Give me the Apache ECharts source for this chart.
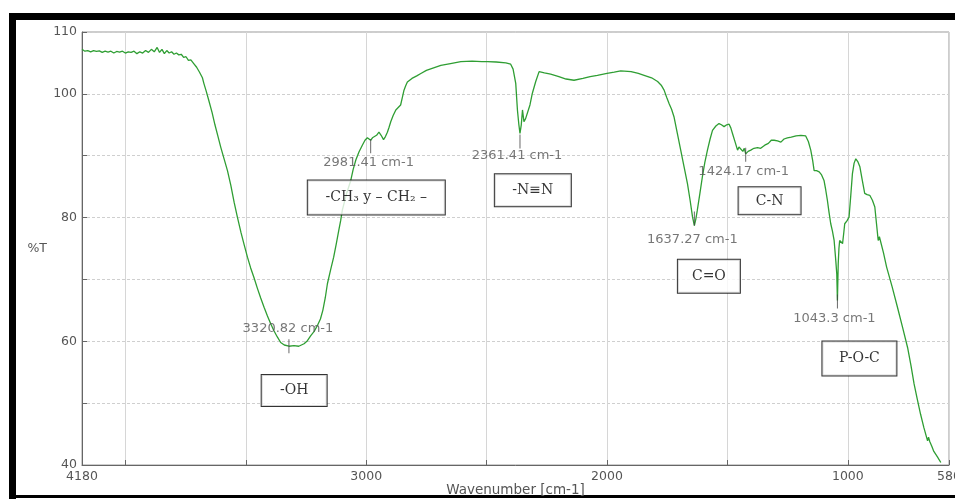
<!DOCTYPE html>
<html>
<head>
<meta charset="utf-8">
<title>FTIR spectrum</title>
<script src="https://cdn.jsdelivr.net/npm/echarts@6/dist/echarts.min.js"></script>
<style>
  html, body { margin: 0; padding: 0; background: #fff; }
  #chart { width: 955px; height: 499px; }
</style>
</head>
<body>
<div id="chart"></div>
<script>
// Spectrum: wavenumber (cm-1) and transmittance (%T)
const wavenumber = [
  4180, 4168, 4156, 4144, 4132, 4120, 4108, 4096, 4084, 4072, 4060, 4048, 4036, 4024, 4012, 4000,
  3988, 3976, 3964, 3952, 3940, 3928, 3916, 3904, 3892, 3880, 3868, 3858, 3848, 3838, 3828, 3818,
  3808, 3798, 3788, 3778, 3768, 3758, 3748, 3738, 3728, 3716, 3704, 3692, 3680, 3674, 3664, 3654,
  3640, 3628, 3616, 3604, 3590, 3576, 3562, 3548, 3535, 3520, 3506, 3493, 3480, 3466, 3452, 3438,
  3424, 3410, 3396, 3383, 3369, 3355, 3340, 3320.82, 3300, 3280, 3258, 3244, 3230, 3216, 3202, 3190,
  3180, 3170, 3161, 3148, 3135, 3124, 3114, 3106, 3099, 3082, 3064, 3054, 3043, 3030, 3016, 3005,
  2995, 2988, 2981.41, 2974, 2967, 2957, 2947, 2938, 2928, 2920, 2912, 2905, 2898, 2888, 2877, 2867,
  2857, 2850, 2843, 2836, 2829, 2810, 2790, 2773, 2750, 2720, 2690, 2650, 2607, 2560, 2520, 2496,
  2460, 2420, 2400, 2390, 2379, 2372, 2366, 2361.41, 2356, 2351, 2345, 2338, 2330, 2320, 2310, 2296,
  2282, 2260, 2234, 2200, 2170, 2137, 2100, 2070, 2040, 2000, 1970, 1943, 1900, 1870, 1846, 1815,
  1790, 1775, 1763, 1752, 1742, 1732, 1722, 1708, 1694, 1680, 1666, 1655, 1645, 1637.27, 1631, 1625,
  1614, 1604, 1594, 1583, 1572, 1562, 1548, 1535, 1525, 1514, 1503, 1493, 1486, 1479, 1468, 1458,
  1452, 1445, 1436, 1430, 1424.17, 1414, 1403, 1390, 1375, 1362, 1345, 1330, 1318, 1306, 1292, 1278,
  1265, 1251, 1235, 1215, 1195, 1175, 1164, 1154, 1146, 1140, 1130, 1119, 1109, 1099, 1092, 1085,
  1078, 1071, 1064, 1057, 1050, 1046, 1043.3, 1040, 1037, 1034, 1028, 1022, 1017, 1013, 1008, 1003,
  999, 995, 988, 981, 974, 967, 958, 950, 940, 930, 920, 909, 898, 888, 881, 874,
  869, 864, 852, 839, 816, 794, 773, 752, 738, 725, 712, 698, 684, 669, 665, 660,
  651, 643, 628, 614
];
const transmittance = [
  107.2, 106.9, 107.0, 106.8, 107.0, 106.85, 106.95, 106.7, 106.9, 106.75, 106.9, 106.6, 106.85, 106.75, 106.9, 106.6,
  106.8, 106.7, 106.9, 106.5, 106.8, 106.6, 107.0, 106.7, 107.2, 106.8, 107.5, 106.7, 107.2, 106.5, 107.0, 106.6,
  106.8, 106.4, 106.6, 106.3, 106.4, 105.9, 106.0, 105.4, 105.5, 104.9, 104.3, 103.5, 102.6, 101.7, 100.4, 99.0,
  97.0, 95.0, 93.2, 91.4, 89.5, 87.6, 85.2, 82.4, 80.1, 77.6, 75.5, 73.6, 71.9, 70.3, 68.6, 67.0,
  65.5, 64.1, 62.8, 61.7, 60.7, 59.8, 59.4, 59.2, 59.3, 59.2, 59.6, 60.1, 60.9, 61.6, 62.6, 63.6,
  65.0, 67.0, 69.3, 71.5, 73.6, 75.8, 77.9, 79.5, 81.2, 83.8, 86.0, 87.8, 89.3, 90.6, 91.7, 92.5,
  92.9, 92.7, 92.5, 92.9, 92.8, 93.3, 93.8, 93.3, 92.6, 93.1, 93.8, 94.6, 95.5, 96.5, 97.4, 97.8,
  98.2, 99.4, 100.6, 101.3, 101.9, 102.5, 102.9, 103.3, 103.8, 104.2, 104.6, 104.9, 105.2, 105.3, 105.2, 105.2,
  105.15, 105.0, 104.8, 104.0, 101.7, 97.4, 95.0, 93.6, 95.0, 97.4, 95.5, 96.0, 96.3, 98.2, 100.1, 102.0,
  103.6, 103.4, 103.2, 102.8, 102.4, 102.2, 102.5, 102.8, 103.0, 103.3, 103.5, 103.7, 103.6, 103.3, 103.0, 102.6,
  102.0, 101.4, 100.6, 99.4, 98.4, 97.5, 96.3, 93.6, 90.9, 88.2, 85.5, 82.8, 80.1, 78.7, 79.8, 81.2,
  84.0, 86.6, 88.9, 90.9, 92.7, 94.1, 94.8, 95.2, 95.0, 94.7, 95.0, 95.1, 94.5, 93.6, 92.2, 90.9,
  91.4, 91.4, 90.7, 91.2, 90.3, 90.7, 90.9, 91.2, 91.3, 91.2, 91.7, 92.0, 92.5, 92.5, 92.4, 92.2,
  92.7, 92.9, 93.0, 93.2, 93.3, 93.2, 92.3, 90.9, 89.2, 87.6, 87.6, 87.4, 86.9, 86.0, 84.5, 82.8,
  80.8, 79.0, 77.8, 76.3, 73.0, 70.9, 66.6, 72.5, 75.0, 76.3, 76.5, 75.8, 77.5, 79.0, 79.2, 79.5,
  79.7, 80.1, 83.5, 87.1, 88.8, 89.5, 89.0, 88.2, 86.0, 83.9, 83.7, 83.6, 82.8, 81.7, 79.0, 76.3,
  76.9, 76.8, 74.3, 72.0, 68.8, 65.5, 62.3, 59.0, 56.1, 53.1, 50.7, 48.2, 46.0, 43.9, 44.5, 43.8,
  43.0, 42.2, 41.3, 40.4
];

// Picked peaks
const peakWavenumber = [3320.82, 2981.41, 2361.41, 1637.27, 1424.17, 1043.3];
const peakTransmittance = [59.2, 92.5, 93.6, 78.7, 90.3, 66.6];

// Band assignments
const bandLabel = ['-OH', '-CH\u2083 y \u2013 CH\u2082 \u2013', '-N\u2261N', 'C=O', 'C-N', 'P-O-C'];
const bandWavenumber = [3299, 2958, 2308, 1577, 1325, 952];
const bandTransmittance = [52.05, 83.26, 84.4, 70.5, 82.7, 57.2];

// Axis ticks that carry a label
const xTickLabels = [4180, 3000, 2000, 1000, 580];
const yTickLabels = [110, 100, 80, 60, 40];

const chart = echarts.init(document.getElementById('chart'), null, { renderer: 'canvas' });

const sans = 'DejaVu Sans';
const serif = 'DejaVu Serif';

const spectrum = wavenumber.map((w, i) => [w, transmittance[i]]);

// marker offset and label offset (px) for each picked peak
const peakStyle = [
  { mark: 0,  label: [-1, -18] },
  { mark: 6,  label: [-2, 22] },
  { mark: 8,  label: [-3, 22] },
  { mark: -7, label: [-2, 14] },
  { mark: 1,  label: [-2, 18] },
  { mark: 1,  label: [-3, 18] }
];
const peaks = peakWavenumber.map((w, i) => ({
  value: [w, peakTransmittance[i]],
  symbolOffset: [0, peakStyle[i].mark],
  label: { offset: [peakStyle[i].label[0], peakStyle[i].label[1] - peakStyle[i].mark] }
}));

// box sizes for band labels
const boxSize = [[67, 33], [139, 36], [78, 34], [64, 35], [64, 29], [76, 36]];
const bands = bandLabel.map((t, i) => ({
  value: [bandWavenumber[i], bandTransmittance[i]],
  name: t,
  label: { width: boxSize[i][0] - 2, height: boxSize[i][1] - 2, lineHeight: boxSize[i][1] - 2 }
}));

const option = {
  animation: false,
  backgroundColor: '#ffffff',
  grid: {
    left: 82, right: 6, top: 32, bottom: 34,
    outerBoundsMode: 'none',
    containLabel: false,
    show: true, borderColor: '#9a9a9a', borderWidth: 1, backgroundColor: 'transparent'
  },
  xAxis: {
    type: 'value',
    inverse: true,
    min: 580,
    max: 4180,
    splitNumber: 8,
    name: 'Wavenumber [cm-1]',
    nameLocation: 'middle',
    nameGap: 18,
    nameMoveOverlap: false,
    nameTextStyle: { fontFamily: sans, fontSize: 13.5, color: '#555' },
    axisLine: { show: true, onZero: false, lineStyle: { color: '#666', width: 1 } },
    axisTick: { show: true, inside: true, length: 5, lineStyle: { color: '#666' } },
    axisLabel: {
      show: true,
      margin: 5,
      showMinLabel: true,
      showMaxLabel: true,
      fontFamily: sans,
      fontSize: 12.5,
      color: '#555',
      formatter: v => (xTickLabels.indexOf(v) >= 0 ? String(v) : '')
    },
    splitLine: { show: true, lineStyle: { color: '#d6d6d6', width: 1, type: 'solid' } }
  },
  yAxis: {
    type: 'value',
    min: 40,
    max: 110,
    interval: 10,
    name: '%T',
    nameLocation: 'middle',
    nameRotate: 0,
    nameGap: 35,
    nameMoveOverlap: false,
    nameTextStyle: { fontFamily: sans, fontSize: 12.5, color: '#555' },
    axisLine: { show: true, onZero: false, lineStyle: { color: '#666', width: 1 } },
    axisTick: { show: true, inside: true, length: 5, lineStyle: { color: '#666' } },
    axisLabel: {
      margin: 5,
      fontFamily: sans,
      fontSize: 12.5,
      color: '#555',
      formatter: v => (yTickLabels.indexOf(v) >= 0 ? String(v) : '')
    },
    splitLine: { show: true, lineStyle: { color: '#cfcfcf', width: 1, type: [3, 2] } }
  },
  graphic: [
    // outer frame
    { type: 'rect', shape: { x: 9, y: 13, width: 946, height: 7 }, style: { fill: '#000' }, silent: true },
    { type: 'rect', shape: { x: 9, y: 13, width: 7, height: 486 }, style: { fill: '#000' }, silent: true },
    { type: 'rect', shape: { x: 9, y: 495, width: 946, height: 3 }, style: { fill: '#000' }, silent: true }
  ],
  series: [
    {
      name: 'spectrum',
      type: 'line',
      data: spectrum,
      showSymbol: false,
      symbol: 'none',
      smooth: false,
      lineStyle: { color: '#2f9e33', width: 1.3 },
      z: 3
    },
    {
      name: 'peaks',
      type: 'scatter',
      data: peaks,
      symbol: 'rect',
      symbolSize: [1, 14],
      itemStyle: { color: '#444' },
      label: {
        show: true,
        position: 'inside',
        formatter: p => p.value[0] + ' cm-1',
        fontFamily: sans,
        fontSize: 13,
        color: '#555'
      },
      z: 4
    },
    {
      name: 'bands',
      type: 'scatter',
      data: bands,
      symbol: 'circle',
      symbolSize: 1,
      itemStyle: { color: 'rgba(0,0,0,0)' },
      label: {
        show: true,
        position: 'inside',
        formatter: p => p.name,
        fontFamily: serif,
        fontSize: 14,
        color: '#000',
        align: 'center',
        verticalAlign: 'middle',
        backgroundColor: '#ffffff',
        borderColor: '#000',
        borderWidth: 1,
        padding: 0
      },
      z: 5
    }
  ]
};

chart.setOption(option);
</script>
</body>
</html>
